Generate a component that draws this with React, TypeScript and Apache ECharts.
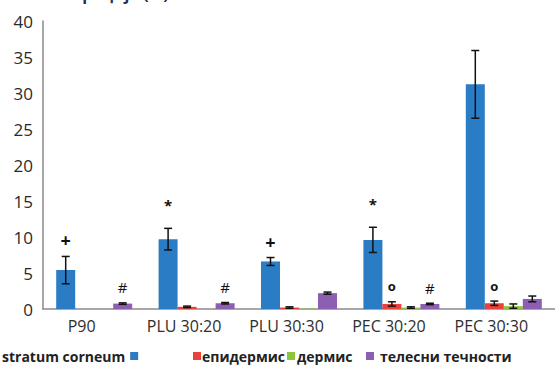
import React, { useEffect, useRef } from "react";
import * as echarts from "echarts";

const categories = ["P90", "PLU 30:20", "PLU 30:30", "PEC 30:20", "PEC 30:30"];
const seriesNames = ["stratum corneum", "епидермис", "дермис", "телесни течности"];
const stratumValues = [5.4, 9.7, 6.6, 9.6, 31.2];
const stratumErrors = [1.9, 1.5, 0.55, 1.75, 4.7];
const epidermisValues = [0, 0.3, 0.2, 0.7, 0.8];
const epidermisErrors = [0, 0.1, 0.1, 0.3, 0.3];
const dermisValues = [0, 0, 0.05, 0.2, 0.4];
const dermisErrors = [0, 0, 0, 0.1, 0.3];
const fluidValues = [0.75, 0.8, 2.2, 0.7, 1.4];
const fluidErrors = [0.1, 0.1, 0.15, 0.1, 0.4];
const stratumMarks = ["+", "*", "+", "*", ""];
const epidermisMarks = ["", "", "", "o", "o"];
const dermisMarks = ["", "", "", "", ""];
const fluidMarks = ["#", "#", "", "#", ""];
const yTicks = [0, 40, 5];
const titleText = "Пенетрација (%)";

const colors = ["#2a7cc5", "#e8423c", "#8cc640", "#8d5fb3"];
const BAR_W = 19;

export default function App() {
  const ref = useRef<HTMLDivElement>(null);
  useEffect(() => {
    if (!ref.current) return;
    const chart = echarts.init(ref.current, null, { renderer: "svg" });
    const values = [stratumValues, epidermisValues, dermisValues, fluidValues];
    const errors = [stratumErrors, epidermisErrors, dermisErrors, fluidErrors];
    const marks = [stratumMarks, epidermisMarks, dermisMarks, fluidMarks];
    const errData: number[][] = [];
    values.forEach((arr, s) =>
      arr.forEach((v, c) => errData.push([c, s, v, errors[s][c]]))
    );
    const font = "'Open Sans', 'Noto Sans', sans-serif";
    const legendBase = {
      orient: "horizontal",
      top: 349,
      itemWidth: 8,
      itemHeight: 8,
      icon: "rect",
      padding: 0,
    };
    const legendText = { fontSize: 14, fontWeight: "bold", color: "#222", fontFamily: font };
    chart.setOption({
      animation: false,
      textStyle: { fontFamily: font },
      grid: { left: 43, right: -8, top: 21, bottom: 61, containLabel: false },
      legend: [
        { ...legendBase, left: 2, align: "right", data: [seriesNames[0]], textStyle: legendText },
        { ...legendBase, left: 193, data: [seriesNames[1]], textStyle: { ...legendText, padding: [0, 0, 0, -4] } },
        { ...legendBase, left: 287, data: [seriesNames[2]], textStyle: { ...legendText, padding: [0, 0, 0, -3] } },
        { ...legendBase, left: 366, data: [seriesNames[3]], textStyle: { ...legendText, padding: [0, 0, 0, 1] } },
      ],
      graphic: [
        {
          type: "text",
          left: 32,
          top: -14,
          style: { text: titleText, font: `bold 16px ${font}`, fill: "#1f2f5a" },
        },
      ],
      xAxis: {
        type: "category",
        data: categories,
        axisLine: { show: true, lineStyle: { color: "#8a8a8a", width: 1.5 } },
        axisTick: { show: false },
        axisLabel: {
          fontSize: 16,
          color: "#2e2e2e",
          margin: 9,
          padding: [0, 25, 0, 0],
          fontFamily: font,
        },
      },
      yAxis: {
        type: "value",
        min: yTicks[0],
        max: yTicks[1],
        interval: yTicks[2],
        axisLine: { show: true, lineStyle: { color: "#8a8a8a", width: 1.5 } },
        axisTick: { show: false },
        splitLine: { show: false },
        axisLabel: { fontSize: 17, color: "#2a2a2a", margin: 10, fontFamily: font },
      },
      series: [
        ...values.map((arr, s) => ({
          name: seriesNames[s],
          type: "bar",
          data: arr,
          barWidth: BAR_W,
          barGap: "0%",
          itemStyle: { color: colors[s] },
        })),
        {
          type: "custom",
          data: errData,
          z: 10,
          clip: false,
          renderItem: (params: any, api: any) => {
            const c = api.value(0);
            const s = api.value(1);
            const v = api.value(2);
            const e = api.value(3);
            const center = api.coord([c, v]);
            const x = center[0] + (s - 1.5) * BAR_W;
            const top = api.coord([c, v + e])[1];
            const bot = api.coord([c, Math.max(v - e, 0)])[1];
            const children: any[] = [];
            if (e > 0) {
              const lineStyle = { stroke: "#111", lineWidth: 1.5 };
              children.push(
                { type: "line", shape: { x1: x, y1: top, x2: x, y2: bot }, style: lineStyle },
                { type: "line", shape: { x1: x - 4, y1: top, x2: x + 4, y2: top }, style: lineStyle },
                { type: "line", shape: { x1: x - 4, y1: bot, x2: x + 4, y2: bot }, style: lineStyle }
              );
            }
            const m = marks[s][c];
            if (m) {
              const yTop = e > 0 ? top : center[1];
              let size = 18;
              let gap = 7;
              let weight = "bold";
              if (m === "*") { size = 15; gap = 16; }
              if (m === "o") { size = 13; gap = 9; }
              if (m === "#") { size = 15; gap = 8; weight = "normal"; }
              children.push({
                type: "text",
                x: x,
                y: yTop - gap,
                style: {
                  text: m,
                  font: `${weight} ${size}px ${font}`,
                  fill: "#111",
                  align: "center",
                  verticalAlign: "bottom",
                },
              });
            }
            return { type: "group", children };
          },
        },
      ],
    });
    return () => chart.dispose();
  }, []);
  return (
    <div
      ref={ref}
      style={{ position: "fixed", left: 0, top: 0, width: 555, height: 370, background: "#fff" }}
    />
  );
}
